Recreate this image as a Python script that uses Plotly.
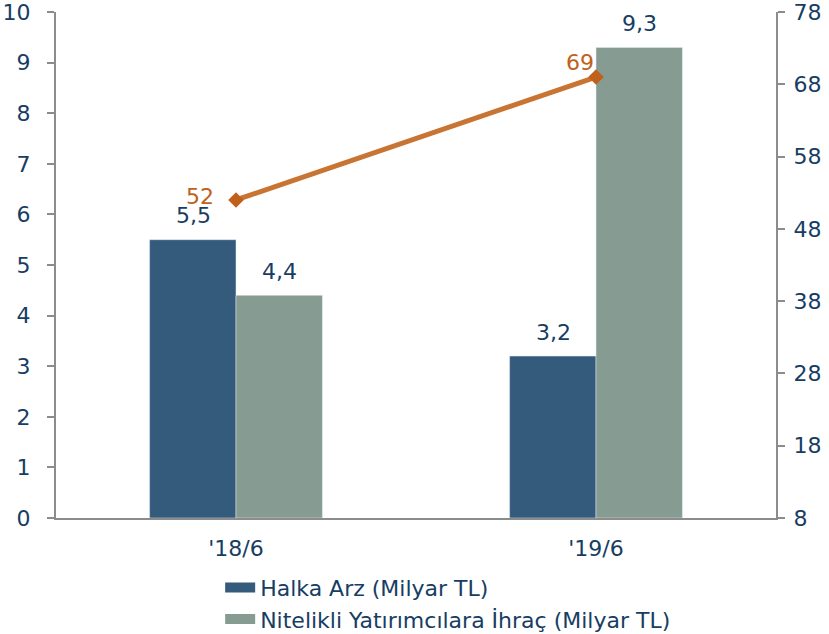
import plotly.graph_objects as go

# veriler
donem = ["'18/6", "'19/6"]
halka_arz = [5.5, 3.2]
nitelikli = [4.4, 9.3]
toplam = [52, 69]

yazi_renk = "#173d63"
eksen_renk = "#8c8c8c"
turuncu = "#c0601a"
koyu = "#345b7c"
gri = "#869b91"
fs = 22

fig = go.Figure()

fig.add_trace(go.Bar(x=donem, y=halka_arz, marker_color=koyu, showlegend=False))
fig.add_trace(go.Bar(x=donem, y=nitelikli, marker_color=gri, showlegend=False))
fig.add_trace(go.Scatter(
    x=donem, y=toplam, yaxis="y2", mode="lines+markers",
    line=dict(color="#c87533", width=5),
    marker=dict(symbol="diamond", size=12, color=turuncu),
    showlegend=False, cliponaxis=False,
))

# lejant icin genis kutucuklar
fig.add_trace(go.Scatter(x=[None], y=[None], mode="lines", name="Halka Arz (Milyar TL)",
                         line=dict(color=koyu, width=12)))
fig.add_trace(go.Scatter(x=[None], y=[None], mode="lines",
                         name="Nitelikli Yatırımcılara İhraç (Milyar TL)",
                         line=dict(color=gri, width=12)))

# cubuk etiketleri
for i, d in enumerate(donem):
    fig.add_annotation(x=d, y=halka_arz[i], text=f"{halka_arz[i]:.1f}".replace(".", ","),
                       xshift=-43, yshift=24, showarrow=False, yanchor="middle",
                       font=dict(size=fs, color=yazi_renk))
    fig.add_annotation(x=d, y=nitelikli[i], text=f"{nitelikli[i]:.1f}".replace(".", ","),
                       xshift=43, yshift=24, showarrow=False, yanchor="middle",
                       font=dict(size=fs, color=yazi_renk))

# cizgi etiketleri
kaydir = [(-20, 3), (0, 15)]
for i, d in enumerate(donem):
    fig.add_annotation(x=d, y=toplam[i], yref="y2", text=str(toplam[i]),
                       xanchor="right", yanchor="middle",
                       xshift=kaydir[i][0], yshift=kaydir[i][1], showarrow=False,
                       font=dict(size=fs, color=turuncu))

fig.update_layout(
    width=829, height=634,
    margin=dict(l=56, r=53, t=12, b=116, autoexpand=False),
    paper_bgcolor="white", plot_bgcolor="white",
    font=dict(family="DejaVu Sans", color=yazi_renk, size=fs),
    barmode="group", bargap=0.52, bargroupgap=0,
    xaxis=dict(
        showline=True, linecolor=eksen_renk, linewidth=2,
        ticks="", tickfont=dict(size=fs), showgrid=False,
        ticklabelstandoff=10,
    ),
    yaxis=dict(
        range=[0, 10], dtick=1, showgrid=False, zeroline=False,
        showline=True, linecolor=eksen_renk, linewidth=2,
        ticks="outside", ticklen=7, tickcolor=eksen_renk, tickwidth=2,
        tickfont=dict(size=fs), ticklabeloverflow="allow",
        ticklabelstandoff=12,
    ),
    yaxis2=dict(
        range=[8, 78], tick0=8, dtick=10, overlaying="y", side="right",
        showgrid=False, zeroline=False,
        showline=True, linecolor=eksen_renk, linewidth=2,
        ticks="outside", ticklen=7, tickcolor=eksen_renk, tickwidth=2,
        tickfont=dict(size=fs), ticklabeloverflow="allow",
        ticklabelstandoff=4,
    ),
    legend=dict(
        x=0.228, y=-0.096, xanchor="left", yanchor="top",
        orientation="v", font=dict(size=fs), tracegroupgap=0,
    ),
)

fig.write_html("out.html", config={"displayModeBar": False},
               post_script="document.body.style.margin='0';")
